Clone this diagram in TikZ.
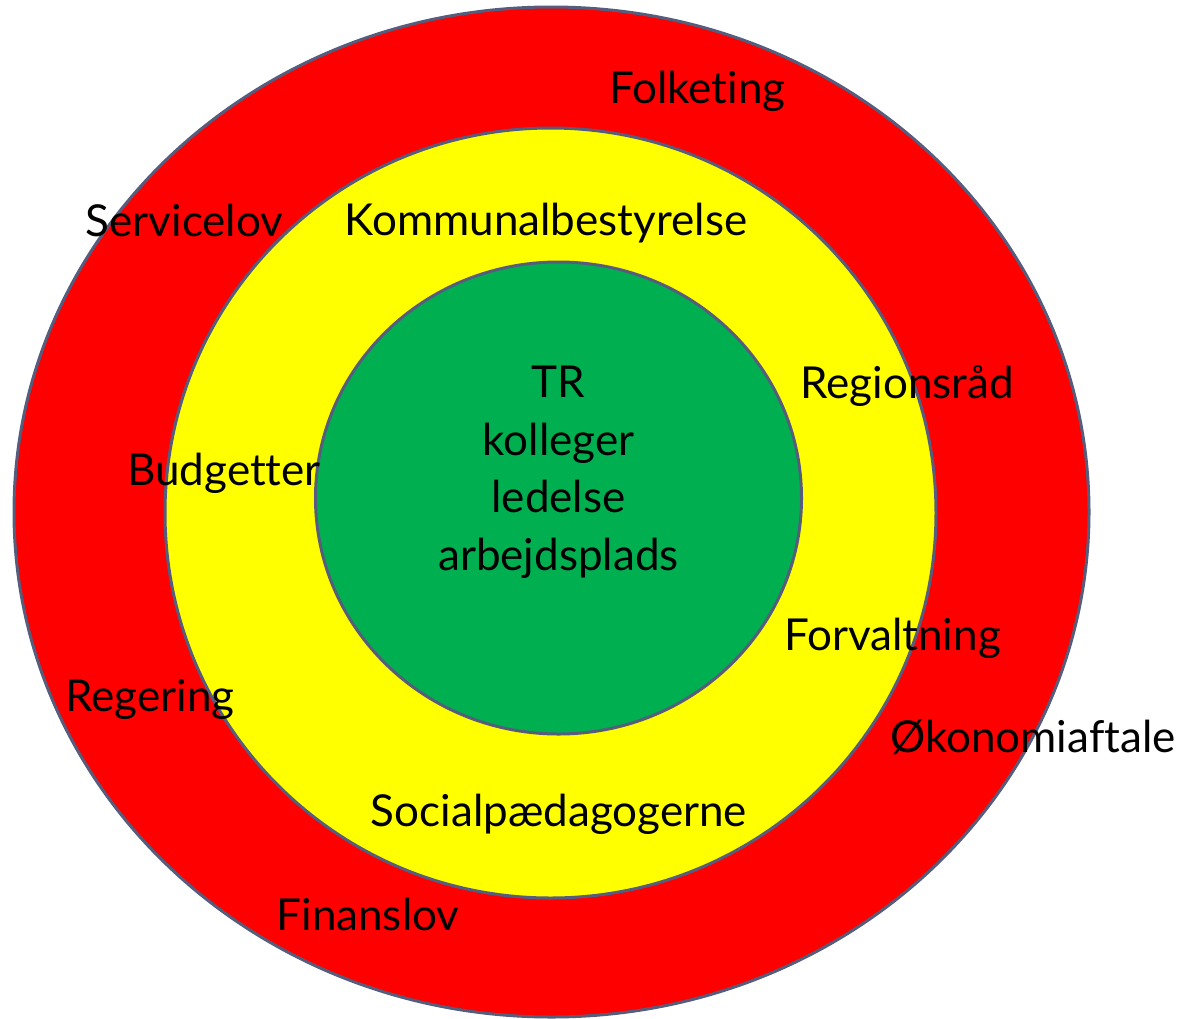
\documentclass[tikz,border=0pt]{standalone}
\usepackage{fontspec}
\setmainfont{Lato}[Ligatures={NoCommon}]
\usetikzlibrary{shapes.geometric}
\definecolor{ringred}{RGB}{255,0,0}
\definecolor{ringyellow}{RGB}{255,255,0}
\definecolor{ringgreen}{RGB}{0,176,80}
\definecolor{ringedge}{RGB}{86,92,124}
\tikzset{
  ring/.style={ellipse, draw=ringedge, line width=3pt, inner sep=0pt},
  lbl/.style={anchor=base, inner sep=0pt, font=\fontsize{44}{52}\selectfont, text=black},
}
\begin{document}
\begin{tikzpicture}[x=1pt,y=-1pt]
\useasboundingbox (0,0) rectangle (1181,1018);
\node[ring, fill=ringred, minimum width=1075pt, minimum height=1010pt] (outer) at (551.5,512) {};
\node[ring, fill=ringyellow, minimum width=771pt, minimum height=770pt] (middle) at (550.5,513) {};
\node[ring, fill=ringgreen, minimum width=486pt, minimum height=472pt] (inner) at (558.5,498) {};

\node[lbl] (folketing) at (697.5,103) {Folketing};
\node[lbl] (servicelov) at (184.5,236) {Servicelov};
\node[lbl] (kommunal) at (546,235) {Kommunalbestyrelse};
\node[lbl] (regionsraad) at (907,398) {Regionsråd};
\node[lbl] (budgetter) at (224,485) {Budgetter};
\node[lbl] (forvaltning) at (892.5,650) {Forvaltning};
\node[lbl] (regering) at (150,711) {Regering};
\node[lbl] (oekonomi) at (1033,752) {Økonomiaftale};
\node[lbl] (socialpaed) at (559,826) {Socialpædagogerne};
\node[lbl] (finanslov) at (368,930) {Finanslov};

\node[lbl] (tr) at (558.5,397) {TR};
\node[lbl] (kolleger) at (558.5,455) {kolleger};
\node[lbl] (ledelse) at (558.5,512) {ledelse};
\node[lbl] (arbejdsplads) at (558.5,570) {arbejdsplads};
\end{tikzpicture}
\end{document}
